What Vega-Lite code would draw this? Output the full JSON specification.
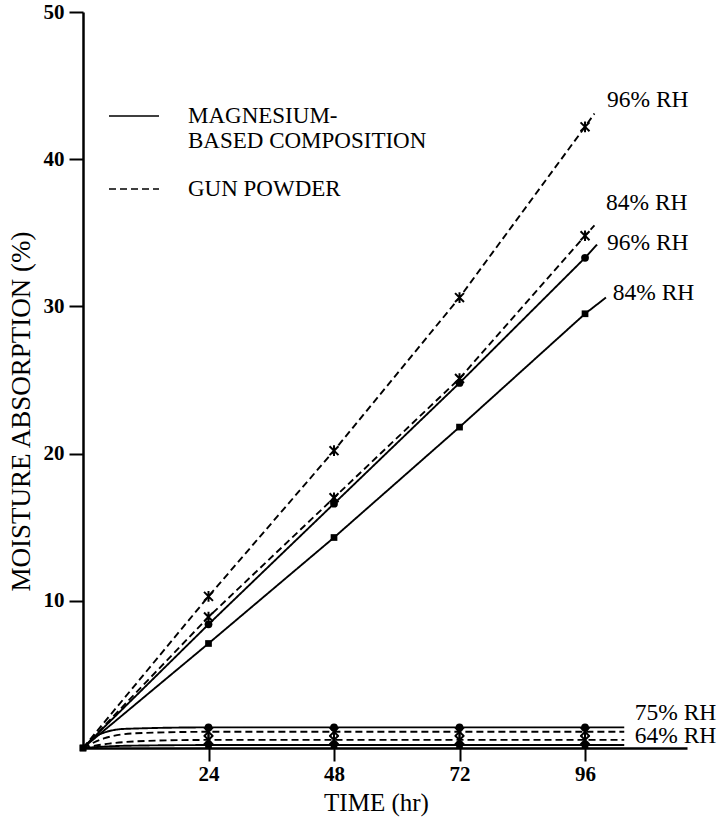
{
  "$schema": "https://vega.github.io/schema/vega-lite/v6.json",
  "width": 604,
  "height": 736,
  "autosize": {"type": "none"},
  "padding": {"left": 83, "top": 12, "right": 37, "bottom": 82},
  "background": "white",
  "config": {"view": {"stroke": null}},
  "datasets": {
    "curves": [
      {"series": "Gun 96", "material": "GUN POWDER", "kind": "high", "time": 0, "value": 0},
      {"series": "Gun 96", "material": "GUN POWDER", "kind": "high", "time": 24, "value": 10.3},
      {"series": "Gun 96", "material": "GUN POWDER", "kind": "high", "time": 48, "value": 20.2},
      {"series": "Gun 96", "material": "GUN POWDER", "kind": "high", "time": 72, "value": 30.6},
      {"series": "Gun 96", "material": "GUN POWDER", "kind": "high", "time": 96, "value": 42.2},
      {"series": "Gun 96", "material": "GUN POWDER", "kind": "high", "time": 97.8, "value": 43.1},
      {"series": "Gun 84", "material": "GUN POWDER", "kind": "high", "time": 0, "value": 0},
      {"series": "Gun 84", "material": "GUN POWDER", "kind": "high", "time": 24, "value": 8.9},
      {"series": "Gun 84", "material": "GUN POWDER", "kind": "high", "time": 48, "value": 17.0},
      {"series": "Gun 84", "material": "GUN POWDER", "kind": "high", "time": 72, "value": 25.1},
      {"series": "Gun 84", "material": "GUN POWDER", "kind": "high", "time": 96, "value": 34.8},
      {"series": "Gun 84", "material": "GUN POWDER", "kind": "high", "time": 97.8, "value": 35.5},
      {"series": "Mag 96", "material": "MAGNESIUM-BASED COMPOSITION", "kind": "high", "time": 0, "value": 0},
      {"series": "Mag 96", "material": "MAGNESIUM-BASED COMPOSITION", "kind": "high", "time": 24, "value": 8.4},
      {"series": "Mag 96", "material": "MAGNESIUM-BASED COMPOSITION", "kind": "high", "time": 48, "value": 16.6},
      {"series": "Mag 96", "material": "MAGNESIUM-BASED COMPOSITION", "kind": "high", "time": 72, "value": 24.8},
      {"series": "Mag 96", "material": "MAGNESIUM-BASED COMPOSITION", "kind": "high", "time": 96, "value": 33.3},
      {"series": "Mag 96", "material": "MAGNESIUM-BASED COMPOSITION", "kind": "high", "time": 98.3, "value": 34.2},
      {"series": "Mag 84", "material": "MAGNESIUM-BASED COMPOSITION", "kind": "high", "time": 0, "value": 0},
      {"series": "Mag 84", "material": "MAGNESIUM-BASED COMPOSITION", "kind": "high", "time": 24, "value": 7.1},
      {"series": "Mag 84", "material": "MAGNESIUM-BASED COMPOSITION", "kind": "high", "time": 48, "value": 14.3},
      {"series": "Mag 84", "material": "MAGNESIUM-BASED COMPOSITION", "kind": "high", "time": 72, "value": 21.8},
      {"series": "Mag 84", "material": "MAGNESIUM-BASED COMPOSITION", "kind": "high", "time": 96, "value": 29.5},
      {"series": "Mag 84", "material": "MAGNESIUM-BASED COMPOSITION", "kind": "high", "time": 100, "value": 30.6},
      {"series": "Mag 75", "material": "MAGNESIUM-BASED COMPOSITION", "kind": "low", "time": 0, "value": 0},
      {"series": "Mag 75", "material": "MAGNESIUM-BASED COMPOSITION", "kind": "low", "time": 3, "value": 0.9},
      {"series": "Mag 75", "material": "MAGNESIUM-BASED COMPOSITION", "kind": "low", "time": 8, "value": 1.3},
      {"series": "Mag 75", "material": "MAGNESIUM-BASED COMPOSITION", "kind": "low", "time": 24, "value": 1.4},
      {"series": "Mag 75", "material": "MAGNESIUM-BASED COMPOSITION", "kind": "low", "time": 48, "value": 1.4},
      {"series": "Mag 75", "material": "MAGNESIUM-BASED COMPOSITION", "kind": "low", "time": 72, "value": 1.4},
      {"series": "Mag 75", "material": "MAGNESIUM-BASED COMPOSITION", "kind": "low", "time": 96, "value": 1.4},
      {"series": "Mag 75", "material": "MAGNESIUM-BASED COMPOSITION", "kind": "low", "time": 103.5, "value": 1.4},
      {"series": "Gun 75", "material": "GUN POWDER", "kind": "low", "time": 0, "value": 0},
      {"series": "Gun 75", "material": "GUN POWDER", "kind": "low", "time": 4, "value": 0.65},
      {"series": "Gun 75", "material": "GUN POWDER", "kind": "low", "time": 10, "value": 1.0},
      {"series": "Gun 75", "material": "GUN POWDER", "kind": "low", "time": 24, "value": 1.1},
      {"series": "Gun 75", "material": "GUN POWDER", "kind": "low", "time": 48, "value": 1.1},
      {"series": "Gun 75", "material": "GUN POWDER", "kind": "low", "time": 72, "value": 1.1},
      {"series": "Gun 75", "material": "GUN POWDER", "kind": "low", "time": 96, "value": 1.1},
      {"series": "Gun 75", "material": "GUN POWDER", "kind": "low", "time": 103.5, "value": 1.1},
      {"series": "Gun 64", "material": "GUN POWDER", "kind": "low", "time": 0, "value": 0},
      {"series": "Gun 64", "material": "GUN POWDER", "kind": "low", "time": 5, "value": 0.3},
      {"series": "Gun 64", "material": "GUN POWDER", "kind": "low", "time": 14, "value": 0.5},
      {"series": "Gun 64", "material": "GUN POWDER", "kind": "low", "time": 24, "value": 0.55},
      {"series": "Gun 64", "material": "GUN POWDER", "kind": "low", "time": 48, "value": 0.55},
      {"series": "Gun 64", "material": "GUN POWDER", "kind": "low", "time": 72, "value": 0.55},
      {"series": "Gun 64", "material": "GUN POWDER", "kind": "low", "time": 96, "value": 0.55},
      {"series": "Gun 64", "material": "GUN POWDER", "kind": "low", "time": 103.5, "value": 0.55},
      {"series": "Mag 64", "material": "MAGNESIUM-BASED COMPOSITION", "kind": "low", "time": 0, "value": 0},
      {"series": "Mag 64", "material": "MAGNESIUM-BASED COMPOSITION", "kind": "low", "time": 8, "value": 0.15},
      {"series": "Mag 64", "material": "MAGNESIUM-BASED COMPOSITION", "kind": "low", "time": 24, "value": 0.2},
      {"series": "Mag 64", "material": "MAGNESIUM-BASED COMPOSITION", "kind": "low", "time": 48, "value": 0.2},
      {"series": "Mag 64", "material": "MAGNESIUM-BASED COMPOSITION", "kind": "low", "time": 72, "value": 0.2},
      {"series": "Mag 64", "material": "MAGNESIUM-BASED COMPOSITION", "kind": "low", "time": 96, "value": 0.2},
      {"series": "Mag 64", "material": "MAGNESIUM-BASED COMPOSITION", "kind": "low", "time": 103.5, "value": 0.2}
    ],
    "labels": [
      {"label": "96% RH", "time": 100.2, "value": 44.0},
      {"label": "84% RH", "time": 100.0, "value": 37.0},
      {"label": "96% RH", "time": 100.2, "value": 34.3},
      {"label": "84% RH", "time": 101.3, "value": 30.9},
      {"label": "75% RH", "time": 105.5, "value": 2.4},
      {"label": "64% RH", "time": 105.5, "value": 0.8}
    ]
  },
  "layer": [
    {
      "data": {"name": "curves"},
      "transform": [{"filter": {"field": "kind", "equal": "high"}}],
      "mark": {"type": "line", "color": "black", "strokeWidth": 1.9, "interpolate": "linear"},
      "encoding": {
        "x": {"field": "time", "type": "quantitative",
          "scale": {"domain": [0, 115.5], "nice": false, "zero": true},
          "axis": {"values": [24, 48, 72, 96], "title": "TIME (hr)", "grid": false,
            "domainColor": "black", "domainWidth": 2.5, "tickColor": "black", "tickWidth": 2, "tickSize": 13,
            "labelFont": "Liberation Sans Narrow", "labelFontWeight": "bold", "labelFontSize": 21, "labelColor": "black", "labelPadding": 2,
            "titleFont": "Liberation Serif", "titleFontWeight": "normal", "titleFontSize": 25, "titleColor": "black", "titlePadding": 6, "titleX": 293}},
        "y": {"field": "value", "type": "quantitative",
          "scale": {"domain": [0, 50], "nice": false},
          "axis": {"values": [10, 20, 30, 40, 50], "title": "MOISTURE ABSORPTION (%)", "grid": false,
            "domainColor": "black", "domainWidth": 2.5, "tickColor": "black", "tickWidth": 2, "tickSize": 14,
            "labelFont": "Liberation Sans Narrow", "labelFontWeight": "bold", "labelFontSize": 21, "labelColor": "black", "labelPadding": 5,
            "titleFont": "Liberation Serif", "titleFontWeight": "normal", "titleFontSize": 27, "titleColor": "black", "titlePadding": 8, "titleY": 399}},
        "detail": {"field": "series"},
        "strokeDash": {"field": "material", "type": "nominal",
          "scale": {"domain": ["MAGNESIUM-BASED COMPOSITION", "GUN POWDER"], "range": [[1, 0], [7, 4]]},
          "legend": {"orient": "none", "legendX": 25, "legendY": 78, "title": null,
            "symbolType": "stroke", "symbolSize": 2500, "symbolStrokeWidth": 1.5, "symbolStrokeColor": "black",
            "labelFont": "Liberation Serif", "labelFontSize": 23, "labelColor": "black", "labelOffset": 28, "rowPadding": 10,
            "labelLimit": 400,
            "labelExpr": "datum.label == 'GUN POWDER' ? 'GUN POWDER' : ['MAGNESIUM-', 'BASED COMPOSITION']"}}
      }
    },
    {
      "data": {"name": "curves"},
      "transform": [{"filter": {"field": "kind", "equal": "low"}}],
      "mark": {"type": "line", "color": "black", "strokeWidth": 1.9, "interpolate": "monotone"},
      "encoding": {
        "x": {"field": "time", "type": "quantitative"},
        "y": {"field": "value", "type": "quantitative"},
        "detail": {"field": "series"},
        "strokeDash": {"field": "material", "type": "nominal"}
      }
    },
    {
      "data": {"name": "curves"},
      "transform": [{"filter": {"field": "series", "oneOf": ["Mag 96", "Mag 75"]}}, {"filter": {"field": "time", "oneOf": [24, 48, 72, 96]}}],
      "mark": {"type": "point", "shape": "circle", "filled": true, "color": "black", "size": 60, "opacity": 1},
      "encoding": {"x": {"field": "time", "type": "quantitative"}, "y": {"field": "value", "type": "quantitative"}}
    },
    {
      "data": {"name": "curves"},
      "transform": [{"filter": {"field": "series", "oneOf": ["Mag 84", "Mag 64"]}}, {"filter": {"field": "time", "oneOf": [0, 24, 48, 72, 96]}}],
      "mark": {"type": "point", "shape": "square", "filled": true, "color": "black", "size": 45, "opacity": 1},
      "encoding": {"x": {"field": "time", "type": "quantitative"}, "y": {"field": "value", "type": "quantitative"}}
    },
    {
      "data": {"name": "curves"},
      "transform": [{"filter": {"field": "material", "equal": "GUN POWDER"}}, {"filter": {"field": "time", "oneOf": [24, 48, 72, 96]}}],
      "mark": {"type": "point", "shape": "M-1,-1L1,1M-1,1L1,-1M0,-1.2L0,1.2", "filled": false, "color": "black", "strokeWidth": 2, "size": 80, "opacity": 1},
      "encoding": {"x": {"field": "time", "type": "quantitative"}, "y": {"field": "value", "type": "quantitative"}}
    },
    {
      "data": {"name": "labels"},
      "mark": {"type": "text", "align": "left", "baseline": "middle", "font": "Liberation Serif", "fontSize": 23.5, "color": "black"},
      "encoding": {
        "x": {"field": "time", "type": "quantitative"},
        "y": {"field": "value", "type": "quantitative"},
        "text": {"field": "label"}
      }
    }
  ]
}
